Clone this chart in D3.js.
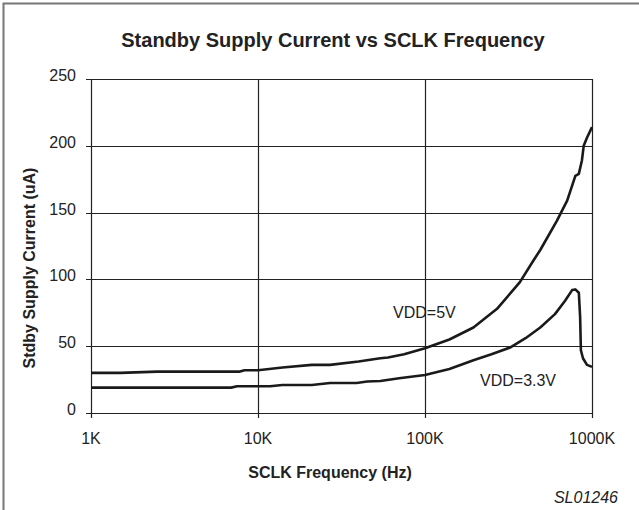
<!DOCTYPE html>
<html>
<head>
<meta charset="utf-8">
<script src="https://cdn.jsdelivr.net/npm/d3@7"></script>
<style>
  body { margin: 0; background: #fff; }
  svg { display: block; }
</style>
</head>
<body>
<div class="chart"></div>
<script>
// frequencies in Hz, current in uA
const freq5 = [1000, 1500, 2500, 5000, 7800, 8300, 10000, 14000, 21000, 27000, 40000, 54000, 60000, 75000, 100000, 140000, 195000, 270000, 370000, 445000, 490000, 617000, 710000, 795000, 834000, 870000, 892000, 933000, 1000000];
const cur5 = [30, 30, 31, 31, 31, 32, 32, 34, 36, 36, 38.5, 41, 41.5, 44, 48.5, 55, 64, 78, 98, 114, 122, 144, 159, 177.5, 179, 189, 200, 206, 214];
const freq33 = [1000, 2000, 5000, 6900, 7500, 10000, 11800, 14000, 21000, 27000, 39000, 45000, 54000, 70000, 100000, 140000, 195000, 250000, 323000, 400000, 490000, 600000, 690000, 760000, 795000, 834000, 849000, 858000, 883000, 933000, 1000000];
const cur33 = [19, 19, 19, 19, 20, 20, 20, 21, 21, 22.4, 22.5, 23.6, 24, 26, 28.4, 33, 39.5, 44, 49, 56, 64, 74, 84, 92, 92.5, 90, 72, 47, 41, 36, 34.5];
const xTicks = [1000, 10000, 100000, 1000000];
const xTickLabels = ['1K', '10K', '100K', '1000K'];
const yTicks = [0, 50, 100, 150, 200, 250];

const width = 639;
const height = 510;
const margin = { left: 91, right: 47, top: 79, bottom: 97 };

const svg = d3.select('.chart')
  .append('svg')
  .attr('width', width)
  .attr('height', height)
  .attr('font-family', 'Arial, "Liberation Sans", sans-serif');

// frame (top and left only)
svg.append('path')
  .attr('d', `M3.5,${height} L3.5,3.5 L${width},3.5`)
  .attr('fill', 'none')
  .attr('stroke', '#777')
  .attr('stroke-width', 2);

const x = d3.scaleLog()
  .domain([1000, 1000000])
  .range([margin.left, width - margin.right]);

const y = d3.scaleLinear()
  .domain([0, 250])
  .range([height - margin.bottom, margin.top]);

// grid
svg.append('g')
  .selectAll('line')
  .data(yTicks)
  .enter()
  .append('line')
  .attr('x1', margin.left - 5)
  .attr('x2', width - margin.right)
  .attr('y1', d => Math.round(y(d)) + 0.5)
  .attr('y2', d => Math.round(y(d)) + 0.5)
  .attr('stroke', '#222')
  .attr('stroke-width', 1.2);

svg.append('g')
  .selectAll('line')
  .data(xTicks)
  .enter()
  .append('line')
  .attr('x1', d => Math.round(x(d)) + 0.5)
  .attr('x2', d => Math.round(x(d)) + 0.5)
  .attr('y1', margin.top)
  .attr('y2', height - margin.bottom + 5)
  .attr('stroke', '#222')
  .attr('stroke-width', 1.2);

// tick labels
svg.append('g')
  .selectAll('text')
  .data(yTicks)
  .enter()
  .append('text')
  .attr('x', 76)
  .attr('y', d => y(d) + 2)
  .attr('text-anchor', 'end')
  .attr('font-size', '16px')
  .attr('fill', '#222')
  .text(d => d);

svg.append('g')
  .selectAll('text')
  .data(xTicks)
  .enter()
  .append('text')
  .attr('x', d => x(d))
  .attr('y', 444)
  .attr('text-anchor', 'middle')
  .attr('font-size', '16px')
  .attr('fill', '#222')
  .text((d, i) => xTickLabels[i]);

// curves
const line = d3.line()
  .x(d => x(d[0]))
  .y(d => y(d[1]));

svg.append('path')
  .datum(d3.zip(freq5, cur5))
  .attr('d', line)
  .attr('fill', 'none')
  .attr('stroke', '#1a1a1a')
  .attr('stroke-width', 2.6)
  .attr('stroke-linejoin', 'round');

svg.append('path')
  .datum(d3.zip(freq33, cur33))
  .attr('d', line)
  .attr('fill', 'none')
  .attr('stroke', '#1a1a1a')
  .attr('stroke-width', 2.6)
  .attr('stroke-linejoin', 'round');

// curve labels
svg.append('text')
  .attr('x', 393)
  .attr('y', 318)
  .attr('font-size', '16px')
  .attr('fill', '#222')
  .text('VDD=5V');

svg.append('text')
  .attr('x', 480)
  .attr('y', 386)
  .attr('font-size', '16px')
  .attr('fill', '#222')
  .text('VDD=3.3V');

// titles
svg.append('text')
  .attr('x', 333)
  .attr('y', 47)
  .attr('text-anchor', 'middle')
  .attr('font-size', '20px')
  .attr('font-weight', 'bold')
  .attr('fill', '#222')
  .text('Standby Supply Current vs SCLK Frequency');

svg.append('text')
  .attr('transform', 'translate(35,268) rotate(-90)')
  .attr('text-anchor', 'middle')
  .attr('font-size', '16px')
  .attr('font-weight', 'bold')
  .attr('fill', '#222')
  .text('Stdby Supply Current (uA)');

svg.append('text')
  .attr('x', 330)
  .attr('y', 478)
  .attr('text-anchor', 'middle')
  .attr('font-size', '16px')
  .attr('font-weight', 'bold')
  .attr('fill', '#222')
  .text('SCLK Frequency (Hz)');

svg.append('text')
  .attr('x', 618)
  .attr('y', 503)
  .attr('text-anchor', 'end')
  .attr('font-size', '16px')
  .attr('font-style', 'italic')
  .attr('fill', '#222')
  .text('SL01246');
</script>
</body>
</html>
